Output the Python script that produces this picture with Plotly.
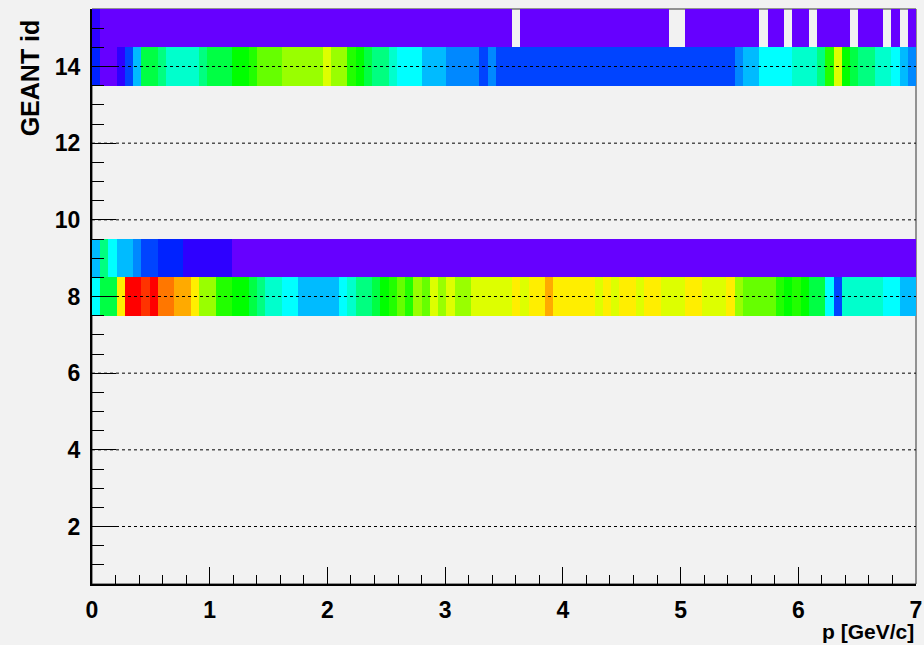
import numpy as np
import plotly.graph_objects as go

# Histogram binning: 100 bins in p over [0, 7] GeV/c, GEANT id rows 1..15
p_min, p_max, n_bins = 0.0, 7.0, 100
geant_ids = list(range(1, 16))

# Bin contents per GEANT id (colour-level counts, None = empty bin)
def runs(*pairs):
    out = []
    for val, n in pairs:
        out.extend([val] * n)
    return out

counts_id15 = runs((2, 1), (1, 50), (None, 1), (1, 18), (None, 2), (1, 9), (None, 1),
                   (1, 2), (None, 1), (1, 2), (None, 1), (1, 4), (None, 1), (1, 3),
                   (None, 1), (1, 1), (None, 1), (1, 1))
counts_id14 = runs((3, 1), (1, 2), (2, 1), (4, 1), (6, 1), (10, 2), (9, 1), (8, 4), (9, 1),
                   (10, 3), (11, 2), (12, 1), (13, 3), (14, 5), (15, 1), (14, 2), (12, 1),
                   (11, 1), (10, 1), (9, 2), (8, 1), (7, 3), (6, 3), (5, 4), (4, 1), (5, 1),
                   (4, 29), (5, 1), (6, 2), (7, 4), (8, 3), (9, 1), (12, 1), (15, 1),
                   (11, 1), (10, 1), (9, 2), (8, 2), (7, 1), (6, 1), (5, 1))
counts_id9 = runs((6, 1), (9, 1), (7, 1), (6, 2), (5, 1), (4, 2), (3, 3), (2, 6), (1, 83))
counts_id8 = runs((7, 1), (10, 2), (16, 1), (20, 2), (19, 1), (20, 1), (18, 2), (17, 2),
                  (16, 1), (14, 2), (12, 2), (11, 2), (10, 1), (9, 1), (8, 2), (7, 2),
                  (6, 5), (7, 1), (8, 1), (9, 2), (10, 1), (11, 1), (12, 1), (13, 1),
                  (12, 1), (14, 1), (13, 1), (15, 1), (14, 1), (15, 1), (14, 2), (15, 5),
                  (16, 1), (15, 1), (16, 2), (17, 1), (16, 5), (15, 1), (16, 1), (15, 1),
                  (16, 2), (15, 1), (16, 2), (15, 3), (16, 2), (15, 3), (16, 1), (14, 1),
                  (13, 4), (12, 1), (11, 1), (12, 1), (11, 1), (10, 2), (7, 1), (4, 1),
                  (8, 5), (7, 2), (6, 2))

filled_rows = {15: counts_id15, 14: counts_id14, 9: counts_id9, 8: counts_id8}

# ROOT-like rainbow palette, one colour per count level 1..20
palette = ["#6600ff", "#2e00ff", "#0022ff", "#0044ff", "#0088ff", "#00bbff", "#00ffff",
           "#00ffcc", "#00ff80", "#00ff44", "#00ff00", "#22ff00", "#66ff00", "#99ff00",
           "#ddff00", "#ffee00", "#ffaa00", "#ff7700", "#ff3300", "#ff0000"]

y_major_ticks = [2, 4, 6, 8, 10, 12, 14]
x_major_ticks = [0, 1, 2, 3, 4, 5, 6, 7]

edges = np.linspace(p_min, p_max, n_bins + 1)
centers = 0.5 * (edges[:-1] + edges[1:])

z = []
for gid in geant_ids:
    row = filled_rows.get(gid, [None] * n_bins)
    z.append([np.nan if v is None else v for v in row])

n = len(palette)
colorscale = []
for i, c in enumerate(palette):
    colorscale.append([i / n, c])
    colorscale.append([(i + 1) / n, c])

fig = go.Figure(go.Heatmap(
    x=centers, y=geant_ids, z=z,
    colorscale=colorscale, zmin=0.5, zmax=n + 0.5,
    showscale=False, hoverongaps=False,
))

bg = "#f2f2f2"
family = "Liberation Sans Narrow, Arial Narrow, Liberation Sans, Arial, sans-serif"
tick_font = dict(family=family, size=23, color="black", weight="bold")
xtitle_font = dict(family=family, size=21, color="black", weight="bold")
ytitle_font = dict(family="Liberation Sans, Arial, sans-serif", size=25, color="black",
                   weight="bold")

# dotted horizontal grid drawn on top of the bins
for yv in y_major_ticks:
    fig.add_shape(type="line", xref="x", yref="y", x0=p_min, x1=p_max, y0=yv, y1=yv,
                  line=dict(color="black", width=1, dash="dot"), layer="above")

# frame around the pad
fig.add_shape(type="rect", xref="paper", yref="paper", x0=0, x1=1, y0=0, y1=1,
              line=dict(color="#333333", width=1), layer="below")

fig.update_layout(
    width=924, height=645,
    margin=dict(l=92, r=8, t=9, b=61, autoexpand=False),
    paper_bgcolor=bg, plot_bgcolor=bg,
    font=tick_font,
    showlegend=False,
)

fig.update_xaxes(
    range=[p_min, p_max], tickvals=x_major_ticks, showgrid=False, zeroline=False,
    showline=True, linecolor="black", linewidth=2, automargin=False,
    ticks="inside", ticklen=17, tickwidth=1, tickcolor="black",
    minor=dict(dtick=0.2, tick0=0, ticks="inside", ticklen=9, tickcolor="black", tickwidth=1),
    tickfont=tick_font, ticklabelstandoff=4,
)
fig.update_yaxes(
    range=[0.5, 15.5], tickvals=y_major_ticks, showgrid=False, zeroline=False,
    showline=True, linecolor="black", linewidth=2, automargin=False,
    ticks="inside", ticklen=24, tickwidth=1, tickcolor="black",
    minor=dict(dtick=0.5, tick0=0, ticks="inside", ticklen=12, tickcolor="black", tickwidth=1),
    tickfont=tick_font, ticklabelstandoff=5,
)

fig.add_annotation(text="p [GeV/c]", xref="paper", yref="paper", x=1.0, y=-0.082,
                   xanchor="right", yanchor="middle", showarrow=False, font=xtitle_font)
fig.add_annotation(text="GEANT id", xref="paper", yref="paper", x=-0.075, y=0.985,
                   xanchor="center", yanchor="top", textangle=-90, showarrow=False,
                   font=ytitle_font)

fig.write_html("out.html")
